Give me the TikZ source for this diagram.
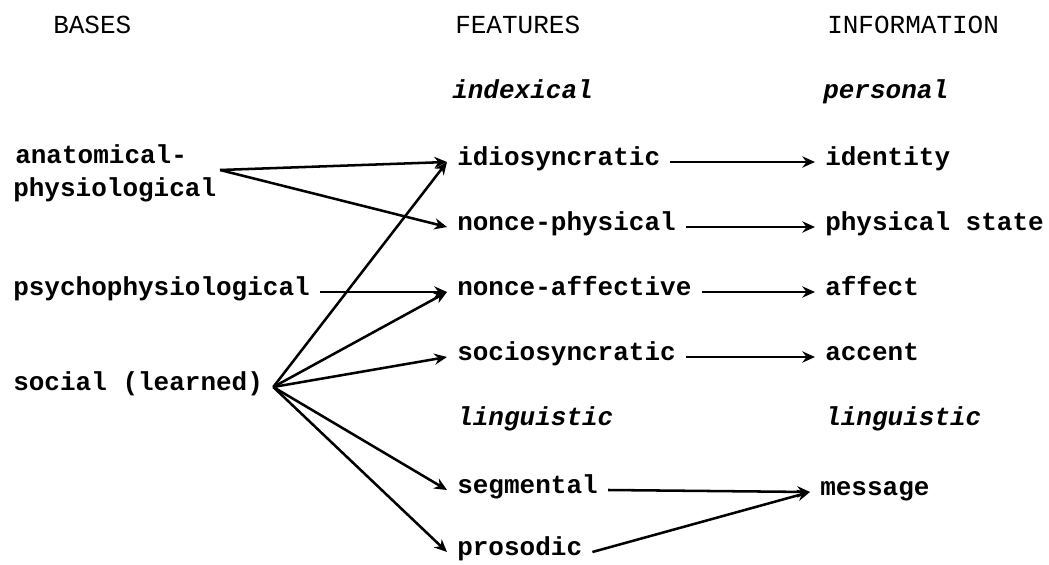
\documentclass[tikz,border=0pt]{standalone}
\usepackage{fontspec}
\setmonofont{Liberation Mono}
\usepackage{tikz}
\usetikzlibrary{arrows.meta}

\begin{document}
\begin{tikzpicture}[
  txt/.style={anchor=west,inner xsep=0.25cm,inner ysep=0pt,text height=1ex,text depth=0pt,
    font=\ttfamily\bfseries\fontsize{18.5}{22}\selectfont},
  head/.style={txt,font=\ttfamily\fontsize{18.5}{22}\selectfont},
  kind/.style={txt,font=\ttfamily\bfseries\itshape\fontsize{18.5}{22}\selectfont},
  arr/.style={-{Stealth[length=9pt,width=8pt]},line width=1.8pt}]
\useasboundingbox (0,0) rectangle (26.225,14.1);

% column heads
\node[head] (bases) at (1.075,13.35) {BASES};
\node[head] (features) at (11.125,13.35) {FEATURES};
\node[head] (information) at (20.425,13.35) {INFORMATION};
\node[kind] (indexical) at (11.05,11.725) {indexical};
\node[kind] (personal) at (20.325,11.725) {personal};

% bases
\node[txt] (anat) at (0.125,10.1) {anatomical-};
\node[txt] (physiol) at (0.075,9.275) {physiological};
\coordinate (anatorg) at (5.5,9.85);
\node[txt] (psycho) at (0.075,6.8) {psychophysiological};
\node[txt] (social) at (0.075,4.425) {social (learned)};

% features
\node[txt] (idio) at (11.175,10.05) {idiosyncratic};
\node[txt] (nphys) at (11.175,8.425) {nonce-physical};
\node[txt] (naff) at (11.175,6.8) {nonce-affective};
\node[txt] (socio) at (11.175,5.175) {sociosyncratic};
\node[kind] (lingf) at (11.175,3.55) {linguistic};
\node[txt] (segm) at (11.175,1.85) {segmental};
\node[txt] (pros) at (11.175,0.3) {prosodic};

% information
\node[txt] (ident) at (20.375,10.05) {identity};
\node[txt] (pstate) at (20.375,8.425) {physical state};
\node[txt] (affect) at (20.375,6.8) {affect};
\node[txt] (accent) at (20.375,5.175) {accent};
\node[kind] (lingi) at (20.375,3.55) {linguistic};
\node[txt] (mess) at (20.25,1.8) {message};

\draw[arr] (anatorg) -- (idio.west);
\draw[arr] (anatorg) -- (nphys.west);
\draw[arr] (psycho.east) -- (naff.west);
\draw[arr] (social.east) -- (idio.west);
\draw[arr] (social.east) -- (naff.west);
\draw[arr] (social.east) -- (socio.west);
\draw[arr] (social.east) -- (segm.west);
\draw[arr] (social.east) -- (pros.west);

\draw[arr] (idio.east) -- (ident.west);
\draw[arr] (nphys.east) -- (pstate.west);
\draw[arr] (naff.east) -- (affect.west);
\draw[arr] (socio.east) -- (accent.west);
\draw[arr] (segm.east) -- (mess.west);
\draw[arr] (pros.east) -- (mess.west);
\end{tikzpicture}
\end{document}
